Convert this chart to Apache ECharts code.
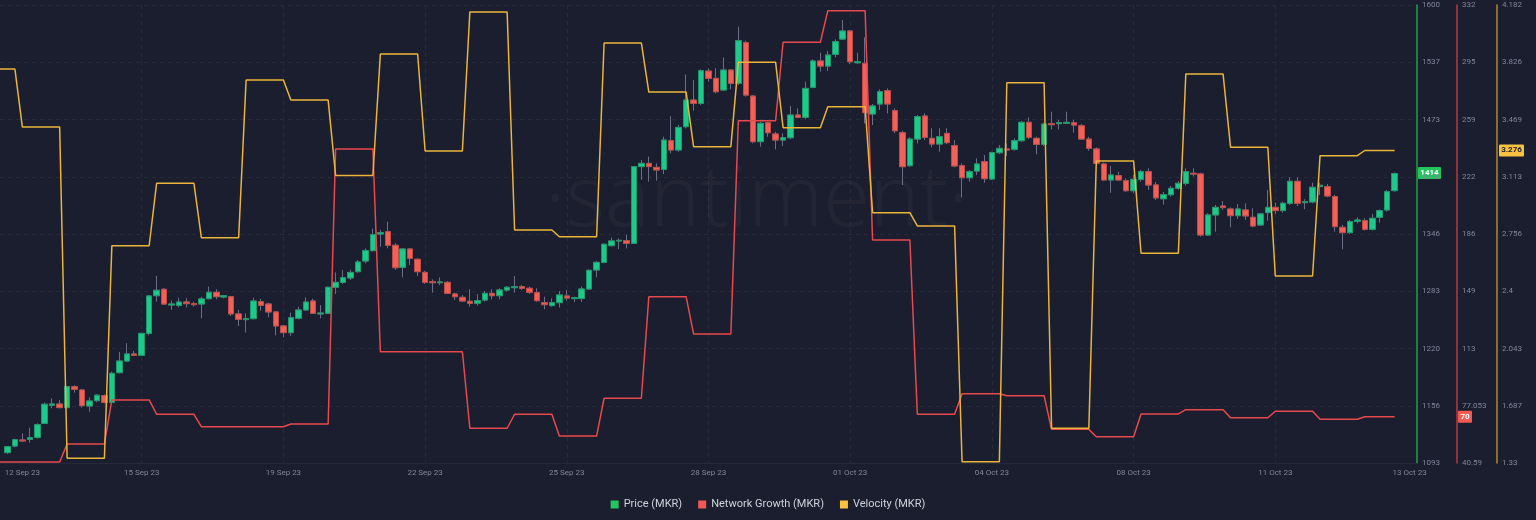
<!DOCTYPE html>
<html><head><meta charset="utf-8">
<script src="https://cdn.jsdelivr.net/npm/echarts@6/dist/echarts.min.js"></script>
<style>html,body{margin:0;padding:0;background:#1b1e2e;}#c{width:1536px;height:520px;}</style>
</head><body><div id="c"></div>
<script>
// 4-hour candles (slot 1..187), slot 0 only carries the daily lines
const priceOpen = [
1104.5,1111.8,1118.5,1119.2,1121.4,1136.9,1156.8,1158.3,1154.3,1177.5,
1173.8,1156.1,1162,1167.6,1160.2,1193,1205.9,1213.7,1212.2,1236.5,
1278.2,1285.3,1267.9,1267.5,1271.2,1269.4,1269,1274.9,1282,1276.8,
1277.1,1258,1251.7,1252.8,1271.6,1269,1260.2,1244.7,1237.3,1253.2,
1262.4,1272.3,1258,1258.7,1287.5,1293,1297.8,1304.8,1316.6,1328.1,
1346.5,1349.1,1334,1309.6,1329.9,1318.5,1304,1293.7,1292.6,1293,
1280.1,1276.4,1272,1269.8,1273.4,1280.8,1278.2,1284.5,1287.1,1288.2,
1286.4,1281.6,1270.5,1267.2,1270.5,1277.9,1275,1275,1285.6,1306.7,
1315.1,1333.6,1338.8,1339.1,1336.2,1421.1,1424.7,1420.3,1418,1449.8,
1439.5,1465.3,1494.8,1491.1,1526.9,1518.8,1505.9,1528,1513.3,1558.3,
1499.2,1448.7,1469.7,1457.2,1450.5,1453.1,1478.2,1475.6,1508.8,1538,
1532.4,1545.4,1562.3,1571.2,1536.1,1535.4,1479.3,1490.4,1505.1,1483,
1458.7,1422.1,1451.6,1477.1,1452.4,1446.1,1457.9,1444.3,1422.1,1408.8,
1416.2,1426.5,1407.4,1436.5,1440.6,1440.2,1449.8,1470.1,1452.4,1445.7,
1468.6,1468.6,1469,1469.7,1466.4,1451.6,1440.6,1424,1406.3,1411.1,
1405.5,1394.4,1407,1415.5,1400.8,1385.5,1390,1397.1,1402.6,1413.7,
1413,1345.4,1367.6,1377.5,1374.2,1366.8,1373.1,1365,1356.5,1370.2,
1376,1372.4,1380.5,1404.8,1381.2,1382,1399,1398.9,1387.9,1353.9,
1348,1360.6,1361.3,1351.7,1365,1373.1,1394.5];
const priceClose = [
1111.1,1118.8,1117.4,1121,1135.4,1158,1158.3,1154.3,1177.5,1174.6,
1156.5,1161.6,1168,1160.2,1192.3,1205.9,1213.7,1212.2,1236.5,1277.9,
1284.2,1269,1269,1271.2,1269.4,1268.3,1274.6,1282,1277.1,1278.2,
1258,1252,1252.8,1272.3,1267.5,1260.2,1244.7,1237.3,1253.9,1262.4,
1271.2,1258.7,1259,1287.5,1293,1298.2,1304,1315.5,1328.1,1345.8,
1348,1334,1309.2,1329.9,1319.6,1304.8,1293,1292.6,1293.4,1280.8,
1277.1,1272.3,1269.8,1272.7,1280.8,1278.2,1284.5,1287.5,1288.2,1286.4,
1282,1272.7,1268.3,1270.5,1279,1275.6,1276,1285.6,1306.3,1315.1,
1335.1,1338.8,1339.5,1336.2,1421.1,1424.7,1421.1,1417.4,1450.5,1439.5,
1464.5,1494.8,1491.1,1527.3,1518.8,1504,1528,1513.3,1560.5,1500.3,
1448.7,1469,1458.6,1450.5,1453.1,1478.2,1475.6,1507.7,1538,1532.4,
1544.6,1559.4,1571.2,1537.2,1537.2,1480.8,1488.2,1504,1490.4,1460.8,
1421,1451.6,1476.4,1453.5,1446.1,1454.2,1447.6,1421.8,1408.8,1415.5,
1424,1407.7,1436.5,1441.3,1439.5,1449.8,1470.1,1453.5,1445.7,1468.2,
1467.5,1469.7,1470.1,1467.1,1451.6,1441.3,1424.7,1406.3,1411.8,1406.3,
1394.4,1407,1415.5,1400.7,1386.5,1390,1397.1,1402.6,1415.5,1412.8,
1345.4,1367.6,1376,1375.7,1366.8,1374.2,1366.5,1355.4,1368.7,1376,
1372.4,1380.5,1404.8,1380.5,1382.3,1398.2,1400.4,1388.6,1354.7,1348,
1360.2,1362,1351.7,1363.9,1372.4,1393.4,1413.5];
const priceLow = [
1103,1110.4,1116.3,1115.5,1119.9,1136.2,1153.5,1153.5,1153.5,1170.9,
1154.3,1149.8,1160.2,1159,1159,1192.3,1205.2,1211.5,1211.5,1234.3,
1271.6,1267.9,1262.4,1265.3,1265.3,1266,1253.2,1274.2,1274.2,1275.3,
1255.7,1244.7,1237.3,1252,1261.6,1254.3,1234.3,1232.1,1233.6,1252,
1261.3,1258,1253.2,1258,1280,1291.2,1295.6,1303.7,1314,1327,
1332.5,1330.6,1306.7,1298.5,1312.2,1300,1291.2,1281.6,1290,1280.1,
1273.5,1271.6,1266,1267.2,1271.6,1274.2,1274.2,1282.7,1281.6,1284.5,
1280.1,1271.6,1263.1,1266,1265,1272.7,1271.2,1271.2,1284.5,1298.5,
1314,1332.5,1329.9,1330.6,1335.4,1406.3,1404.4,1405.5,1412.9,1435.8,
1437.6,1463.4,1483,1489.3,1515.1,1502.2,1505.1,1506.6,1511.4,1498.5,
1446.8,1443.1,1454.2,1440.2,1443.9,1451.3,1474.5,1473.4,1507.7,1526.2,
1526.9,1542,1561.2,1534.7,1534.7,1469,1467.1,1483.7,1480,1457.9,
1400.7,1421,1446.8,1450.5,1442.4,1437.6,1446.1,1420.3,1387.1,1404.4,
1411.8,1403.3,1406.3,1435,1432.8,1438.7,1448.7,1451.6,1434.7,1443.9,
1462.3,1462.3,1469,1458.7,1450.5,1438.7,1424,1405.5,1392.2,1405.5,
1393.3,1391.5,1404.4,1395.2,1384,1379,1388,1395.5,1400,1410,
1343.6,1344.3,1349.1,1373.1,1353.9,1363.1,1362,1353.9,1355.4,1361.3,
1368.7,1370.2,1378.6,1377.5,1373.9,1380.5,1389.7,1387.1,1349.1,1329.6,
1346.5,1358.3,1350.2,1350.2,1359.1,1371.3,1393.4];
const priceHigh = [
1111.8,1119.9,1125.8,1132.1,1136.9,1159.8,1164.6,1162.8,1178.2,1179,
1174.9,1165.7,1169,1169,1194.1,1215.9,1225.5,1217,1237.3,1279,
1300.4,1286.4,1272.7,1276,1275.3,1271.6,1277.1,1288.2,1285.3,1279,
1277.9,1262.4,1258.7,1276,1274.6,1270.5,1261.3,1245.8,1259.4,1266,
1276.4,1274.9,1267.9,1288.2,1304,1306.7,1306.7,1317.7,1330.6,1352.4,
1351,1360.2,1336.2,1330.6,1330.6,1319.6,1305.6,1296.3,1298.5,1294.5,
1281.6,1279,1285.3,1280,1283.4,1285.3,1286.4,1289,1300,1290,
1288.2,1286.4,1277.1,1275.3,1283.4,1284.5,1277.1,1288.2,1307.4,1316.6,
1336.2,1342.5,1341.7,1345.4,1421.8,1428.4,1432.1,1424.7,1454.2,1477.1,
1467.1,1523.2,1517,1528.8,1529.9,1529.9,1542,1528.8,1576,1560.5,
1500.3,1470.8,1470.8,1459.7,1457.9,1488.2,1485.6,1515.1,1539.8,1547.2,
1549.4,1562,1583.4,1572.3,1547.2,1564.2,1490.4,1506.6,1507.7,1485.6,
1460.9,1453.5,1478.2,1480,1463.5,1463.5,1463.5,1450.5,1424.7,1417.3,
1430.3,1433.9,1437.6,1445,1446.8,1452.4,1471.6,1475.6,1454.2,1469.7,
1481.9,1472.7,1481.9,1472.7,1468.2,1454.2,1442.4,1425.4,1421.8,1415.5,
1408.1,1411.8,1417.3,1419.2,1404,1393,1399.5,1405,1419.2,1419.2,
1414.4,1369.4,1378.6,1383,1376,1379.7,1380.5,1375,1369.4,1395.3,
1381.2,1382.3,1409.3,1409.3,1384.9,1403.4,1403.4,1401.9,1389.7,1356.5,
1362,1365,1363.9,1368.7,1373.9,1395.3,1414.5];

// daily values (day 0 = partial first day, then one value per day)
const growthDaily = [41.2,41.2,52.7,80.7,71.6,63.7,63.7,65.4,240.4,111.4,111.4,62.7,71.6,57.8,81.8,146.4,122.7,258.4,308.3,328.4,182.5,71.6,84.7,83.4,62.0,57.3,71.8,74.5,69.4,73.5,68.4,70];
const velocityDaily = [3.783,3.422,1.359,2.683,3.072,2.733,3.715,3.590,3.121,3.877,3.273,4.138,2.781,2.739,3.945,3.640,3.300,3.825,3.418,3.549,2.889,2.806,1.338,3.698,1.546,3.211,2.636,3.752,3.296,2.494,3.244,3.276];

const tickSlots = [3,19,38,57,76,95,114,133,152,171,189];
const tickLabels = ['12 Sep 23','15 Sep 23','19 Sep 23','22 Sep 23','25 Sep 23','28 Sep 23','01 Oct 23','04 Oct 23','08 Oct 23','11 Oct 23','13 Oct 23'];
const priceTicks = ['1093','1156','1220','1283','1346','1410','1473','1537','1600'];
const growthTicks = ['40.59','77.053','113','149','186','222','259','295','332'];
const velocityTicks = ['1.33','1.687','2.043','2.4','2.756','3.113','3.469','3.826','4.182'];
const lastPrice = 1414, lastGrowth = 70, lastVelocity = 3.276;

const SLOTS = 191, LAST_SLOT = 187;
const categories = [];
for (let i = 0; i < SLOTS; i++) categories.push(String(i));
const dayOf = s => s < 3 ? 0 : Math.floor((s - 3) / 6) + 1;

const wickData = [], bodyData = [], growthData = [], velocityData = [];
for (let s = 0; s < SLOTS; s++) {
  const k = s - 1;
  if (k >= 0 && k < priceOpen.length) {
    wickData.push([priceOpen[k], priceClose[k], priceLow[k], priceHigh[k]]);
    bodyData.push([priceOpen[k], priceClose[k], Math.min(priceOpen[k], priceClose[k]), Math.max(priceOpen[k], priceClose[k])]);
  } else { wickData.push('-'); bodyData.push('-'); }
  if (s <= LAST_SLOT) { growthData.push(growthDaily[dayOf(s)]); velocityData.push(velocityDaily[dayOf(s)]); }
  else { growthData.push('-'); velocityData.push('-'); }
}

const FONT = 'Roboto';
const GREEN = '#1fc98c', RED = '#f2605a', WICK = '#6a6f86';
function yAx(min, max, ticks, lineColor, offset, showSplit) {
  const interval = (max - min) / 8;
  return {
    type: 'value', position: 'right', offset: offset, min: min, max: max, interval: interval,
    axisLine: { show: true, onZero: false, lineStyle: { color: lineColor, width: 1.5, opacity: 1 } },
    axisTick: { show: false },
    splitLine: { show: showSplit, lineStyle: { color: '#272a3b', type: [4, 4] } },
    axisLabel: { color: '#80859a', fontSize: 8, fontFamily: FONT, margin: 5,
      formatter: v => ticks[Math.round((v - min) / interval)] }
  };
}

const chart = echarts.init(document.getElementById('c'), null, { renderer: 'canvas' });
chart.setOption({
  backgroundColor: '#1b1e2e',
  animation: false,
  grid: { left: 0, right: 119, top: 5, bottom: 57, containLabel: false },
  legend: {
    top: 494, left: 'center', itemWidth: 8, itemHeight: 8, itemGap: 16, icon: 'rect',
    textStyle: { color: '#cfd2dc', fontSize: 11, fontFamily: FONT },
    data: [
      { name: 'Price (MKR)', itemStyle: { color: '#22c55e', borderWidth: 0 } },
      { name: 'Network Growth (MKR)', itemStyle: { color: '#f05a55', borderWidth: 0 } },
      { name: 'Velocity (MKR)', itemStyle: { color: '#f6c23f', borderWidth: 0 } }
    ]
  },
  xAxis: {
    type: 'category', data: categories, boundaryGap: false,
    axisLine: { show: true, lineStyle: { color: '#262939' } },
    axisTick: { show: false },
    splitLine: { show: true, interval: (i) => tickSlots.indexOf(i) > 0 && i !== 189,
      lineStyle: { color: '#272a3b', type: [4, 4] } },
    axisLabel: { color: '#80859a', fontSize: 8, fontFamily: FONT, margin: 6,
      interval: (i) => tickSlots.indexOf(i) >= 0,
      formatter: (v, i) => { const j = tickSlots.indexOf(i); return j >= 0 ? tickLabels[j] : ''; } }
  },
  yAxis: [
    yAx(1093, 1600, priceTicks, '#21a144', 0, true),
    yAx(40.59, 332, growthTicks, '#b73a41', 40, false),
    yAx(1.33, 4.182, velocityTicks, '#b68a22', 80, false)
  ],
  series: [
    { name: 'Price (MKR)', type: 'candlestick', yAxisIndex: 0, data: wickData, barWidth: 6, z: 2,
      itemStyle: { color: 'transparent', color0: 'transparent', borderColor: WICK, borderColor0: WICK, borderWidth: 1 } },
    { name: 'Price (MKR)', type: 'candlestick', yAxisIndex: 0, data: bodyData, barWidth: 6, z: 3,
      itemStyle: { color: GREEN, color0: RED, borderColor: '#1b9a6a', borderColor0: '#c24a46', borderWidth: 1 } },
    { name: 'Network Growth (MKR)', type: 'line', yAxisIndex: 1, data: growthData, showSymbol: false, z: 4,
      lineStyle: { color: '#e8494c', width: 1.5 }, itemStyle: { color: '#f05a55' } },
    { name: 'Velocity (MKR)', type: 'line', yAxisIndex: 2, data: velocityData, showSymbol: false, z: 5,
      lineStyle: { color: '#eab53a', width: 1.5 }, itemStyle: { color: '#f6c23f' } }
  ]
});

// badges and watermark
const axisX = 1536 - 119;
const yP = chart.convertToPixel({ yAxisIndex: 0 }, lastPrice);
const yG = chart.convertToPixel({ yAxisIndex: 1 }, lastGrowth);
const yV = chart.convertToPixel({ yAxisIndex: 2 }, lastVelocity);
function badge(x, y, w, text, bg, fg) {
  return { type: 'group', x: x, y: y - 6, z: 100, children: [
    { type: 'rect', shape: { x: 0, y: 0, width: w, height: 12, r: 1 }, style: { fill: bg } },
    { type: 'text', style: { x: w / 2, y: 6, text: text, fill: fg, font: 'bold 8px Roboto', textAlign: 'center', textVerticalAlign: 'middle' } }
  ]};
}
chart.setOption({ graphic: [
  { type: 'text', z: 0, silent: true, left: 545, top: 160,
    style: { text: '·santiment·', fill: 'rgba(255,255,255,0.035)', font: '300 84px "Noto Sans"' } },
  badge(axisX + 1, yP, 23, String(lastPrice), '#22c55e', '#ffffff'),
  badge(axisX + 41, yG, 14, String(lastGrowth), '#f05a55', '#ffffff'),
  badge(axisX + 82, yV, 25, String(lastVelocity), '#f6c23f', '#1b1e2e')
]});
</script></body></html>
